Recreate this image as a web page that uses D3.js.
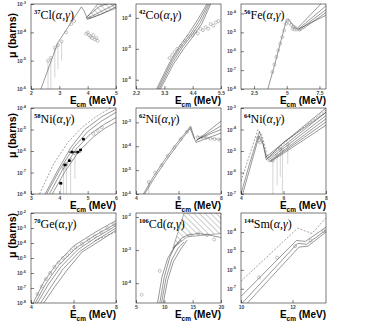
<!DOCTYPE html>
<html>
<head>
<meta charset="utf-8">
<script src="https://cdn.jsdelivr.net/npm/d3@7"></script>
<style>
  body { margin: 0; background: #fff; }
  svg { display: block; }
</style>
</head>
<body>
<script>
// -----------------------------
// Data (energies in MeV, cross sections as log10(barns))
// -----------------------------

// 37Cl(a,g)
const clXTicks = [2, 3, 4, 5];
const clYTicks = [-6, -5, -4, -3];
const clSolid = [
  [[2.35, -6], [2.95, -4.36], [3.78, -3.1], [3.88, -3.25], [3.99, -3.54], [4.5, -3.35], [5, -3.1]],
  [[4.0, -3.5], [4.6, -3.2], [5, -3.0]],
  [[3.97, -3.45], [4.4, -3.1], [4.8, -2.95]]
];
const clDashed = [];
const clPoints = [
  [2.6, -5.0, -6], [2.7, -4.9, -6], [2.84, -4.54, -5.6], [2.95, -4.45, -5.3], [3.08, -4.32, -5.0],
  [3.24, -4.0], [3.42, -3.71], [3.52, -3.6], [3.95, -4.05], [4.0, -4.0], [4.05, -4.1],
  [4.1, -4.15], [4.15, -4.2], [4.2, -4.1], [4.25, -4.25], [4.3, -4.2], [4.35, -4.3]
];
const clHatch = [[3.95, -3.5], [4.35, -3.0], [5, -3.0], [5, -3.15], [4.1, -3.5]];

// 42Co(a,g)
const coXTicks = [2.2, 3.3, 4.4, 5.5];
const coYTicks = [-6, -5, -4];
const coSolid = [
  [[3.0, -6.3], [3.5, -5.45], [3.9, -4.9], [4.25, -4.5], [4.6, -4.05], [4.95, -3.55]],
  [[3.05, -6.3], [3.55, -5.45], [3.95, -4.92], [4.3, -4.55], [4.65, -4.1], [5.0, -3.55]],
  [[3.1, -6.3], [3.6, -5.47], [4.0, -4.95], [4.35, -4.58], [4.7, -4.15], [5.05, -3.55]],
  [[3.15, -6.3], [3.65, -5.5], [4.05, -5.0], [4.4, -4.62], [4.75, -4.2], [5.1, -3.55]]
];
const coDashed = [];
const coPoints = [
  [3.5, -5.3], [3.6, -5.2], [3.7, -5.1], [3.8, -5.0], [3.95, -4.9], [4.1, -4.75],
  [4.25, -4.6], [4.4, -4.55], [4.5, -4.45], [4.6, -4.5], [4.7, -4.35], [4.8, -4.4],
  [4.9, -4.3], [5.0, -4.35], [5.1, -4.2], [5.2, -4.25], [5.3, -4.15], [5.4, -4.1]
];
const coHatch = [];

// 56Fe(a,g)
const feXTicks = [2.5, 5, 7.5];
const feYTicks = [-8, -7, -6, -5, -4];
const feSolid = [
  [[3.55, -8], [4.0, -6.9], [4.5, -5.6], [4.95, -4.4], [5.15, -4.3], [5.5, -4.65], [5.85, -4.85], [6.8, -4.5], [8, -4.1]],
  [[5.8, -4.8], [7.6, -3.5]],
  [[5.85, -4.85], [8, -3.6]],
  [[5.9, -4.9], [8, -3.8]],
  [[5.95, -4.95], [8, -3.95]]
];
const feDashed = [];
const fePoints = [
  [3.9, -7.1], [4.05, -6.7], [4.2, -6.3], [4.35, -5.95], [4.5, -5.6], [4.65, -5.25],
  [4.8, -4.9], [4.95, -4.55], [5.05, -4.35], [5.2, -4.5], [5.35, -4.6], [5.45, -4.8],
  [5.5, -4.7], [5.6, -4.85], [5.65, -4.75], [5.8, -4.85]
];
const feHatch = [];

// 58Ni(a,g)
const ni58XTicks = [3, 4, 5, 6];
const ni58YTicks = [-8, -7, -6, -5, -4];
const ni58Solid = [
  [[3.5, -8], [3.9, -7.0], [4.4, -5.85], [4.9, -5.0], [5.5, -4.4], [6, -4.05]],
  [[3.55, -8], [4.0, -6.9], [4.5, -5.85], [5.0, -5.1], [5.5, -4.6], [6, -4.2]],
  [[3.65, -8], [4.1, -6.9], [4.6, -5.9], [5.1, -5.2], [5.6, -4.75], [6, -4.45]],
  [[3.75, -8], [4.2, -6.95], [4.7, -6.0], [5.2, -5.35], [5.6, -4.95], [6, -4.65]]
];
const ni58Dashed = [
  [[3.3, -8], [3.8, -6.6], [4.3, -5.6], [4.8, -4.9], [5.3, -4.4], [5.8, -4.0]]
];
const ni58Squares = [
  [4.05, -7.5, 0.05], [4.2, -6.65, 0.08], [4.35, -6.45, 0.05], [4.45, -6.05, 0.12],
  [4.65, -6.05, 0.1], [4.75, -5.95, 0.05], [4.85, -5.45, 0.05]
];
const ni58Points = [
  [4.05, -7.5, -8], [4.15, -6.8, -8], [4.25, -6.6, -8], [4.4, -6.4, -8], [4.55, -6.1, -7.3],
  [5.2, -5.2], [5.35, -5.05], [5.5, -4.9]
];
const ni58Hatch = [];

// 62Ni(a,g)
const ni62XTicks = [4, 6, 8];
const ni62YTicks = [-6, -5, -4, -3];
const ni62Solid = [
  [[4.35, -6], [4.8, -5.3], [5.3, -4.63], [5.9, -3.9], [6.57, -3.17], [6.8, -3.8]],
  [[4.4, -6], [4.85, -5.35], [5.35, -4.68], [5.95, -3.95], [6.55, -3.25], [6.75, -3.7]],
  [[6.8, -3.8], [8, -2.95]],
  [[6.85, -3.75], [8, -3.15]],
  [[6.9, -3.7], [8, -3.3]],
  [[6.8, -3.85], [8, -3.45]]
];
const ni62Dashed = [
  [[6.9, -3.6], [8, -3.72]]
];
const ni62Points = [
  [4.6, -5.5, -6], [4.9, -5.1], [5.2, -4.8], [5.5, -4.4], [5.8, -4.05], [6.1, -3.7],
  [6.4, -3.4], [6.55, -3.25], [6.9, -3.62], [7.1, -3.62], [7.3, -3.65], [7.5, -3.68],
  [7.7, -3.7], [7.9, -3.72]
];
const ni62Hatch = [];

// 64Ni(a,g)
const ni64XTicks = [4, 6, 8];
const ni64YTicks = [-7, -6, -5, -4, -3];
const ni64Solid = [
  [[4.0, -7], [4.4, -5.6], [4.87, -4.1], [5.0, -4.5], [5.19, -5.4], [6, -4.6], [7, -3.9], [8, -3.2]],
  [[4.08, -7], [4.45, -5.7], [4.85, -4.3], [5.05, -4.7], [5.2, -5.3]],
  [[5.15, -5.3], [8, -3.0]],
  [[5.2, -5.4], [8, -3.2]],
  [[5.25, -5.45], [8, -3.35]],
  [[5.3, -5.5], [8, -3.5]],
  [[5.35, -5.5], [8, -3.65]],
  [[5.4, -5.5], [8, -3.8]]
];
const ni64Dashed = [
  [[4.0, -6.4], [4.4, -5.2], [4.8, -4.0], [5.0, -4.3], [5.25, -5.3], [6.2, -4.5], [7.2, -3.7], [8, -3.1]]
];
const ni64Points = [
  [4.8, -4.4], [4.85, -4.5], [4.9, -4.6], [5.5, -5.45, -7], [5.7, -5.2, -6.6],
  [5.85, -4.9, -6.2], [5.95, -4.95, -7], [6.2, -4.7, -5.6]
];
const ni64Hatch = [];

// 70Ge(a,g)
const geXTicks = [4, 6, 8];
const geYTicks = [-8, -7, -6, -5, -4, -3, -2];
const geSolid = [
  [[4.1, -8], [4.6, -6.6], [5.2, -5.4], [6.0, -4.2], [7.0, -3.3], [8, -2.5]],
  [[4.2, -8], [4.7, -6.7], [5.3, -5.5], [6.1, -4.35], [7.0, -3.5], [8, -2.7]],
  [[4.3, -8], [4.8, -6.8], [5.4, -5.6], [6.2, -4.45], [7.1, -3.6], [8, -2.85]],
  [[4.45, -8], [4.95, -6.9], [5.5, -5.75], [6.3, -4.55], [7.2, -3.7], [8, -3.0]],
  [[4.6, -8], [5.1, -6.95], [5.7, -5.8], [6.4, -4.6], [7.3, -3.8], [8, -3.15]]
];
const geDashed = [
  [[7.0, -3.85], [7.5, -3.55], [8, -3.25]]
];
const gePoints = [
  [4.3, -7.4], [4.5, -6.9], [4.7, -6.4], [4.9, -6.0], [5.1, -5.6], [5.3, -5.3],
  [5.5, -5.0], [5.7, -4.8], [5.9, -4.5], [6.1, -4.3], [6.4, -4.05], [6.7, -3.8],
  [7.0, -3.55], [7.3, -3.3], [7.6, -3.0], [7.9, -2.75]
];
const geHatch = [];

// 106Cd(a,g)
const cdXTicks = [5, 10, 15, 20];
const cdYTicks = [-4, -3, -2];
const cdSolid = [
  [[9.2, -4.6], [10, -3.8], [11, -3.2], [12, -2.85], [13, -2.65], [14, -2.55], [16, -2.5], [18, -2.55], [20, -2.62]],
  [[8.8, -4.6], [9.6, -3.8], [10.6, -3.25], [11.8, -2.9], [13, -2.7]],
  [[9.5, -4.6], [10.3, -3.85], [11.3, -3.3], [12.4, -2.95], [13.5, -2.75]],
  [[9.8, -4.6], [10.6, -3.9], [11.6, -3.35], [12.8, -3.0], [14, -2.7]]
];
const cdDashed = [];
const cdPoints = [
  [6, -4.35], [9.2, -3.63], [14.5, -2.55], [16, -2.5], [17.5, -2.55], [18.8, -2.68]
];
const cdHatch = [[11.5, -2.95], [13.5, -1.88], [20, -1.88], [20, -2.5], [14, -2.6]];

// 144Sm(a,g)
const smXTicks = [10, 12];
const smYTicks = [-7, -6, -5, -4];
const smSolid = [
  [[10, -7.4], [12.15, -4.45], [12.5, -4.5], [13.3, -3.75]],
  [[10.05, -7.75], [12.2, -4.6], [12.55, -4.65], [13.3, -3.9]],
  [[10.25, -7.75], [12.25, -4.8], [12.6, -4.75], [13.3, -4.0]]
];
const smDashed = [
  [[10, -6.6], [12.2, -3.8], [12.75, -4.08], [13.3, -3.27]]
];
const smPoints = [
  [10.7, -6.4], [11.4, -5.35], [12.1, -4.75], [12.7, -4.45], [13.2, -3.95]
];
const smHatch = [];

// -----------------------------
// Layout
// -----------------------------

const WIDTH = 368;
const HEIGHT = 325;
const COLS = [31, 136, 241];
const PANEL_W = 85;
const ROWS = [{ top: 4, h: 85 }, { top: 108, h: 86 }, { top: 213, h: 90 }];

const panels = [
  { col: 0, row: 0, mass: "37", elem: "Cl", x: [2, 5], y: [-6, -3], xt: clXTicks, yt: clYTicks, solid: clSolid, dashed: clDashed, points: clPoints, hatch: clHatch },
  { col: 1, row: 0, mass: "42", elem: "Co", x: [2.2, 5.5], y: [-6.3, -3.55], xt: coXTicks, yt: coYTicks, solid: coSolid, dashed: coDashed, points: coPoints, hatch: coHatch },
  { col: 2, row: 0, mass: "56", elem: "Fe", x: [1.5, 8], y: [-8, -3.5], xt: feXTicks, yt: feYTicks, solid: feSolid, dashed: feDashed, points: fePoints, hatch: feHatch },
  { col: 0, row: 1, mass: "58", elem: "Ni", x: [3, 6], y: [-8, -4], xt: ni58XTicks, yt: ni58YTicks, solid: ni58Solid, dashed: ni58Dashed, points: ni58Points, hatch: ni58Hatch, squares: ni58Squares },
  { col: 1, row: 1, mass: "62", elem: "Ni", x: [4, 8], y: [-6, -2.4], xt: ni62XTicks, yt: ni62YTicks, solid: ni62Solid, dashed: ni62Dashed, points: ni62Points, hatch: ni62Hatch },
  { col: 2, row: 1, mass: "64", elem: "Ni", x: [4, 8], y: [-7, -3], xt: ni64XTicks, yt: ni64YTicks, solid: ni64Solid, dashed: ni64Dashed, points: ni64Points, hatch: ni64Hatch },
  { col: 0, row: 2, mass: "70", elem: "Ge", x: [4, 8], y: [-8, -2], xt: geXTicks, yt: geYTicks, solid: geSolid, dashed: geDashed, points: gePoints, hatch: geHatch },
  { col: 1, row: 2, mass: "106", elem: "Cd", x: [5, 20], y: [-4.6, -1.88], xt: cdXTicks, yt: cdYTicks, solid: cdSolid, dashed: cdDashed, points: cdPoints, hatch: cdHatch },
  { col: 2, row: 2, mass: "144", elem: "Sm", x: [10, 13.3], y: [-7.75, -3], xt: smXTicks, yt: smYTicks, solid: smSolid, dashed: smDashed, points: smPoints, hatch: smHatch }
];

// -----------------------------
// SVG Setup
// -----------------------------

const svg = d3.select("body")
  .append("svg")
  .attr("width", WIDTH)
  .attr("height", HEIGHT)
  .attr("viewBox", `0 0 ${WIDTH} ${HEIGHT}`);

const defs = svg.append("defs");

// diagonal hatching used for the shaded bands
defs.append("pattern")
  .attr("id", "hatch")
  .attr("patternUnits", "userSpaceOnUse")
  .attr("width", 4)
  .attr("height", 4)
  .attr("patternTransform", "rotate(-45)")
  .append("line")
  .attr("x1", 0).attr("y1", 0)
  .attr("x2", 0).attr("y2", 4)
  .attr("stroke", "#333")
  .attr("stroke-width", 0.5);

// -----------------------------
// Panels
// -----------------------------

function drawPanel(p, i) {
  const left = COLS[p.col];
  const { top, h } = ROWS[p.row];
  const w = PANEL_W;

  const x = d3.scaleLinear().domain(p.x).range([0, w]);
  const y = d3.scaleLog().domain([10 ** p.y[0], 10 ** p.y[1]]).range([h, 0]);

  const g = svg.append("g").attr("transform", `translate(${left},${top})`);

  defs.append("clipPath").attr("id", `clip${i}`)
    .append("rect").attr("width", w).attr("height", h);

  const plot = g.append("g").attr("clip-path", `url(#clip${i})`);

  const line = d3.line()
    .x(d => x(d[0]))
    .y(d => y(10 ** d[1]));

  // hatched region
  if (p.hatch.length) {
    plot.append("path")
      .attr("d", line(p.hatch) + "Z")
      .attr("fill", "url(#hatch)")
      .attr("stroke", "#333")
      .attr("stroke-width", 0.4);
  }

  // error bars of the measurements
  plot.selectAll("line.err")
    .data(p.points.filter(d => d.length > 2))
    .join("line")
    .attr("class", "err")
    .attr("x1", d => x(d[0])).attr("x2", d => x(d[0]))
    .attr("y1", d => y(10 ** d[1])).attr("y2", d => y(10 ** d[2]))
    .attr("stroke", "#aaa")
    .attr("stroke-width", 0.5);

  // model curves
  plot.selectAll("path.solid")
    .data(p.solid)
    .join("path")
    .attr("class", "solid")
    .attr("d", line)
    .attr("fill", "none")
    .attr("stroke", "#333")
    .attr("stroke-width", 0.5);

  plot.selectAll("path.dashed")
    .data(p.dashed)
    .join("path")
    .attr("class", "dashed")
    .attr("d", line)
    .attr("fill", "none")
    .attr("stroke", "#444")
    .attr("stroke-width", 0.5)
    .attr("stroke-dasharray", "2,1.5");

  // measured points
  plot.selectAll("circle.pt")
    .data(p.points)
    .join("circle")
    .attr("class", "pt")
    .attr("cx", d => x(d[0]))
    .attr("cy", d => y(10 ** d[1]))
    .attr("r", 1.5)
    .attr("fill", "none")
    .attr("stroke", "#888")
    .attr("stroke-width", 0.5);

  if (p.squares) {
    plot.selectAll("line.xerr")
      .data(p.squares)
      .join("line")
      .attr("class", "xerr")
      .attr("x1", d => x(d[0] - d[2])).attr("x2", d => x(d[0] + d[2]))
      .attr("y1", d => y(10 ** d[1])).attr("y2", d => y(10 ** d[1]))
      .attr("stroke", "#000")
      .attr("stroke-width", 0.8);
    plot.selectAll("rect.sq")
      .data(p.squares)
      .join("rect")
      .attr("class", "sq")
      .attr("x", d => x(d[0]) - 1.3)
      .attr("y", d => y(10 ** d[1]) - 1.3)
      .attr("width", 2.6)
      .attr("height", 2.6)
      .attr("fill", "#000");
  }

  // frame
  g.append("rect")
    .attr("width", w)
    .attr("height", h)
    .attr("fill", "none")
    .attr("stroke", "#222")
    .attr("stroke-width", 0.6);

  // axes with inward ticks
  const xAxis = d3.axisBottom(x).tickValues(p.xt).tickSize(-3).tickPadding(2).tickFormat(d3.format(""));
  const xg = g.append("g").attr("transform", `translate(0,${h})`).call(xAxis);
  xg.select(".domain").remove();
  xg.selectAll(".tick line").attr("stroke-width", 0.5);
  xg.selectAll(".tick text")
    .attr("font-family", "Liberation Sans, Arial, sans-serif")
    .attr("font-size", 5)
    .attr("font-weight", "bold")
    .attr("fill", "#444");

  const yAxis = d3.axisLeft(y).tickValues(p.yt.map(e => 10 ** e)).tickSize(-3).tickFormat("");
  const yg = g.append("g").call(yAxis);
  yg.select(".domain").remove();
  yg.selectAll(".tick line").attr("stroke-width", 0.5);

  const labels = g.selectAll("text.ylab")
    .data(p.yt)
    .join("text")
    .attr("class", "ylab")
    .attr("x", -5)
    .attr("y", d => y(10 ** d) + 2)
    .attr("text-anchor", "end")
    .attr("font-family", "Liberation Sans, Arial, sans-serif")
    .attr("font-size", 5)
    .attr("font-weight", "bold")
    .attr("fill", "#444");
  labels.append("tspan").text("10");
  labels.append("tspan").attr("dy", -2.5).attr("font-size", 4).text(d => d);

  // reaction label
  const title = g.append("text")
    .attr("x", 3)
    .attr("y", 15)
    .attr("font-family", "Liberation Serif, Times New Roman, serif")
    .attr("font-size", 12)
    .attr("fill", "#000");
  title.append("tspan").attr("font-size", 6.5).attr("dy", -5).attr("font-weight", "bold").text(p.mass);
  title.append("tspan").attr("dy", 5).text(p.elem + "(");
  title.append("tspan").attr("font-style", "italic").text("\u03b1");
  title.append("tspan").text(",");
  title.append("tspan").attr("font-style", "italic").text("\u03b3");
  title.append("tspan").text(")");

  // energy axis title
  const et = g.append("text")
    .attr("x", w)
    .attr("y", h + 15)
    .attr("text-anchor", "end")
    .attr("font-family", "Liberation Sans, Arial, sans-serif")
    .attr("font-size", 10)
    .attr("font-weight", "bold")
    .attr("fill", "#000");
  et.append("tspan").text("E");
  et.append("tspan").attr("font-size", 6.5).attr("dy", 2.5).text("cm");
  et.append("tspan").attr("dy", -2.5).text(" (MeV)");

  // cross-section axis title, left column only
  if (p.col === 0) {
    svg.append("text")
      .attr("transform", `translate(16,${top + (p.row === 0 ? 9 : p.row === 1 ? 5 : 0)}) rotate(-90)`)
      .attr("text-anchor", "end")
      .attr("font-family", "Liberation Sans, Arial, sans-serif")
      .attr("font-size", 10.5)
      .attr("font-weight", "bold")
      .attr("fill", "#000")
      .text("\u03bc (barns)");
  }
}

panels.forEach(drawPanel);
</script>
</body>
</html>
